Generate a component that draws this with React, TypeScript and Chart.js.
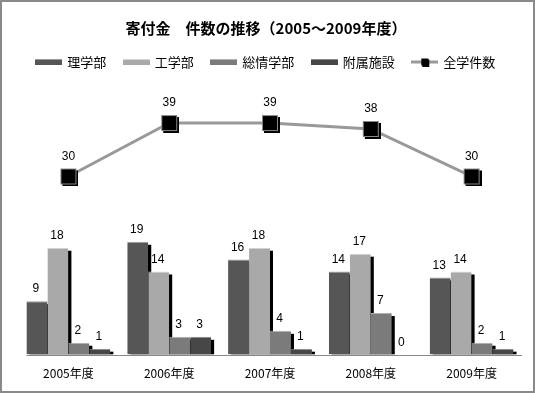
import { useEffect, useRef } from 'react';
import { Chart, registerables } from 'chart.js';

Chart.register(...registerables);

const categories = ['2005年度', '2006年度', '2007年度', '2008年度', '2009年度'];
const seriesNames = ['理学部', '工学部', '総情学部', '附属施設', '全学件数'];
const rigakubu = [9, 19, 16, 14, 13];
const kogakubu = [18, 14, 18, 17, 14];
const sojogakubu = [2, 3, 4, 7, 2];
const fuzokushisetsu = [1, 3, 1, 0, 1];
const zengakuKensu = [30, 39, 39, 38, 30];
const titleText = '寄付金　件数の推移（2005～2009年度）';

const barColors = ['#565656', '#a9a9a9', '#7b7b7b', '#474747'];
const barTopColors = ['#9a9a9a', '#d6d6d6', '#b0b0b0', '#8a8a8a'];
const lineColor = '#999999';

const CJK = '"Noto Sans CJK JP", "Noto Sans", sans-serif';

function makeCanvas(w: number, h: number, draw: (ctx: CanvasRenderingContext2D) => void) {
  const c = document.createElement('canvas');
  c.width = w;
  c.height = h;
  const ctx = c.getContext('2d')!;
  draw(ctx);
  return c;
}

export default function App() {
  const ref = useRef<HTMLCanvasElement>(null);

  useEffect(() => {
    if (!ref.current) return;

    const marker = makeCanvas(20, 20, (ctx) => {
      ctx.fillStyle = '#000';
      ctx.fillRect(4, 4, 16, 16);
      ctx.fillRect(2, 2, 16, 16);
      ctx.strokeStyle = '#888';
      ctx.lineWidth = 1;
      ctx.strokeRect(2.5, 2.5, 15, 15);
    });

    const barSwatches = barColors.map((col, i) =>
      makeCanvas(27, 6, (ctx) => {
        ctx.fillStyle = col;
        ctx.fillRect(0, 0, 27, 6);
        ctx.fillStyle = barTopColors[i];
        ctx.fillRect(0, 0, 27, 1);
      })
    );
    const lineSwatch = makeCanvas(27, 9, (ctx) => {
      ctx.fillStyle = lineColor;
      ctx.fillRect(0, 3, 27, 3);
      ctx.fillStyle = '#000';
      ctx.fillRect(11, 2, 7, 7);
      ctx.fillRect(10, 1, 7, 7);
    });
    const swatches = [...barSwatches, lineSwatch];

    const shadowPlugin = {
      id: 'barShadows',
      beforeDatasetsDraw(chart: any) {
        const { ctx, chartArea: a } = chart;
        ctx.save();
        ctx.beginPath();
        ctx.rect(a.left, a.top, a.right - a.left, a.bottom - a.top);
        ctx.clip();
        ctx.fillStyle = '#000';
        chart.data.datasets.forEach((ds: any, di: number) => {
          const meta = chart.getDatasetMeta(di);
          if (meta.type !== 'bar') return;
          meta.data.forEach((el: any) => {
            const { x, y, base, width } = el.getProps(['x', 'y', 'base', 'width'], true);
            const h = base - (y + 3);
            if (h > 0) ctx.fillRect(x - width / 2 + 3, y + 3, width, h);
          });
        });
        ctx.restore();
      },
    };

    const labelPlugin = {
      id: 'valueLabels',
      afterDatasetsDraw(chart: any) {
        const { ctx, chartArea: a } = chart;
        const first = chart.getDatasetMeta(0).data[0];
        if (first) {
          const { x, width } = first.getProps(['x', 'width'], true);
          ctx.save();
          ctx.strokeStyle = '#888';
          ctx.lineWidth = 1;
          ctx.beginPath();
          const yb = Math.round(a.bottom) + 0.5;
          ctx.moveTo(x - width / 2, yb);
          ctx.lineTo(a.right, yb);
          ctx.stroke();
          ctx.restore();
        }
        ctx.save();
        ctx.font = '12px "Liberation Sans", Arial, sans-serif';
        ctx.fillStyle = '#000';
        ctx.textAlign = 'center';
        ctx.textBaseline = 'middle';
        chart.data.datasets.forEach((ds: any, di: number) => {
          const meta = chart.getDatasetMeta(di);
          const isLine = meta.type === 'line';
          meta.data.forEach((el: any, i: number) => {
            const { x, y } = el.getProps(['x', 'y'], true);
            ctx.fillText(String(ds.data[i]), x - (isLine ? 0 : 1), y - (isLine ? 20 : 12));
          });
        });
        ctx.restore();
      },
    };

    const barData = [rigakubu, kogakubu, sojogakubu, fuzokushisetsu];
    const datasets: any[] = barData.map((d, i) => ({
      type: 'bar',
      label: seriesNames[i],
      data: d,
      backgroundColor: barColors[i],
      borderColor: barTopColors[i],
      borderWidth: { top: 1, left: 0, right: 0, bottom: 0 },
      borderSkipped: 'bottom',
      barPercentage: 1,
      categoryPercentage: 0.832,
    }));
    datasets.push({
      type: 'line',
      label: seriesNames[4],
      data: zengakuKensu,
      borderColor: lineColor,
      borderWidth: 3,
      tension: 0,
      pointStyle: marker,
      pointRadius: 8,
      pointHoverRadius: 8,
      fill: false,
    });

    const chart = new Chart(ref.current, {
      type: 'bar',
      data: { labels: categories, datasets },
      plugins: [shadowPlugin, labelPlugin],
      options: {
        animation: false,
        responsive: false,
        maintainAspectRatio: false,
        layout: { padding: { left: 0, right: 3, top: 0, bottom: -2 } },
        plugins: {
          tooltip: { enabled: false },
          title: {
            display: true,
            text: titleText,
            color: '#000',
            font: { family: CJK, size: 15, weight: 'bold' },
            padding: { top: 17.5, bottom: 0 },
          },
          legend: {
            display: true,
            position: 'top',
            labels: {
              usePointStyle: true,
              pointStyleWidth: 24,
              padding: 18,
              color: '#000',
              font: { family: CJK, size: 13 },
              generateLabels: () =>
                seriesNames.map((name, i) => ({
                  text: name,
                  pointStyle: swatches[i] as any,
                  datasetIndex: i,
                  fillStyle: 'transparent',
                  strokeStyle: 'transparent',
                  lineWidth: 0,
                  hidden: false,
                  fontColor: '#000',
                })),
            },
          },
        },
        scales: {
          x: {
            grid: { display: false, drawTicks: false },
            border: { display: false },
            ticks: {
              color: '#000',
              font: { family: CJK, size: 12 },
              padding: 12,
              maxRotation: 0,
            },
          },
          y: {
            display: true,
            min: 0,
            max: 46.5,
            grid: { display: false, drawTicks: false },
            border: { display: false },
            ticks: { display: false },
            afterFit: (s: any) => {
              s.width = 16;
            },
          },
          y2: {
            type: 'linear',
            position: 'right',
            display: true,
            grid: { display: false, drawTicks: false },
            border: { display: false },
            ticks: { display: false },
            afterFit: (s: any) => {
              s.width = 7;
            },
          },
        },
      } as any,
    });

    return () => chart.destroy();
  }, []);

  return (
    <div
      style={{
        position: 'absolute',
        left: 0,
        top: 0,
        width: 535,
        height: 393,
        boxSizing: 'border-box',
        border: '2px solid #8a8a8a',
        background: '#fff',
      }}
    >
      <canvas ref={ref} width={531} height={389} style={{ display: 'block', width: 531, height: 389 }} />
    </div>
  );
}
